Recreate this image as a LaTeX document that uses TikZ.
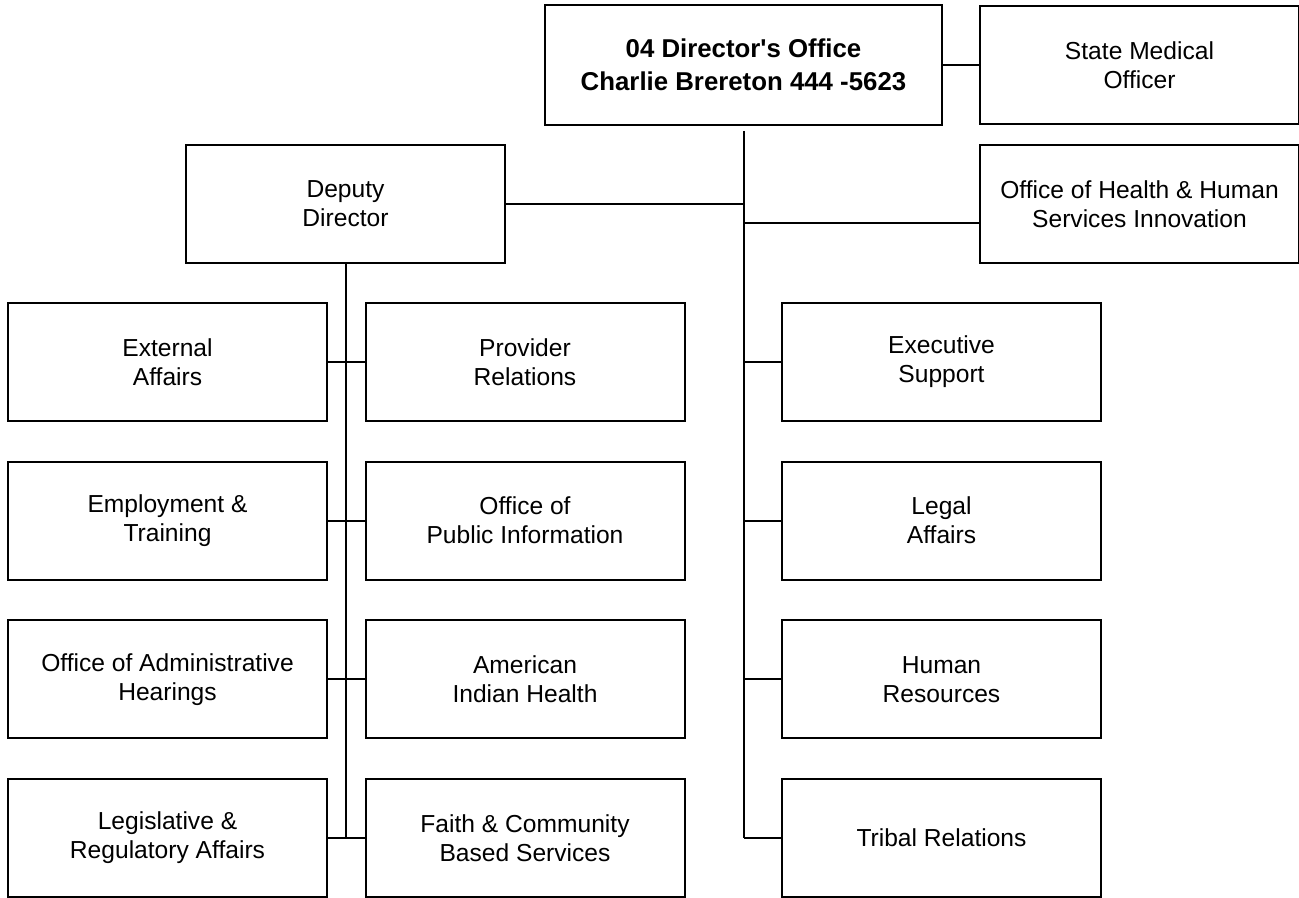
\documentclass[tikz,border=0pt]{standalone}
\usepackage{fontspec}
\setmainfont{Liberation Sans}
\usetikzlibrary{positioning}

\begin{document}
\begin{tikzpicture}[x=0.5pt, y=-0.5pt, node distance=79.3pt]
\tikzstyle{every node}=[font=\fontsize{12.3}{14.5}\selectfont]
\tikzstyle{unit}=[draw, line width=1pt, minimum width=159.5pt, minimum height=59pt, align=center, inner sep=0pt]
\tikzstyle{head}=[unit, minimum width=198.5pt, minimum height=60pt, font=\bfseries\fontsize{12.9}{16.5}\selectfont]
\tikzstyle{link}=[line width=1pt]

\useasboundingbox (0,0) rectangle (1299,898);

\node[head] (dir) at (743.5,65) {04 Director\textquotesingle s Office\\Charlie Brereton 444 -5623};
\node[unit] (smo) at (1139.5,65) {State Medical\\Officer};
\node[unit] (dep) at (345.5,204) {Deputy\\Director};
\node[unit] (ohi) at (1139.5,204) {Office of Health \& Human\\Services Innovation};

% deputy side, two columns
\node[unit] (ext) at (167.5,362) {External\\Affairs};
\node[unit] (emp) [below of=ext] {Employment \&\\Training};
\node[unit] (oah) [below of=emp] {Office of Administrative\\Hearings};
\node[unit] (lra) [below of=oah] {Legislative \&\\Regulatory Affairs};

\node[unit] (prv) [right of=ext, node distance=178.75pt] {Provider\\Relations};
\node[unit] (opi) [below of=prv] {Office of\\Public Information};
\node[unit] (aih) [below of=opi] {American\\Indian Health};
\node[unit] (fcb) [below of=aih] {Faith \& Community\\Based Services};

% director side
\node[unit] (exe) at (941.5,362) {Executive\\Support};
\node[unit] (leg) [below of=exe] {Legal\\Affairs};
\node[unit] (hrs) [below of=leg] {Human\\Resources};
\node[unit] (tri) [below of=hrs] {Tribal Relations};

\draw[link] (dir) -- (smo);
\draw[link, shorten <=2.5pt] (dir.south) -- (dir.south |- tri.west);
\draw[link] (dep.east) -- (dep.east -| dir.south);
\draw[link] ([yshift=-9.5pt]ohi.west) -- ([yshift=-9.5pt]ohi.west -| dir.south);
\draw[link] (dep.south) -- (dep.south |- lra.east);

\foreach \x/\y in {ext/prv, emp/opi, oah/aih, lra/fcb}
{\path[link] (\x) edge (\y);}
\foreach \x in {exe, leg, hrs, tri}
{\draw[link] (\x.west) -- (\x.west -| dir.south);}
\end{tikzpicture}
\end{document}
